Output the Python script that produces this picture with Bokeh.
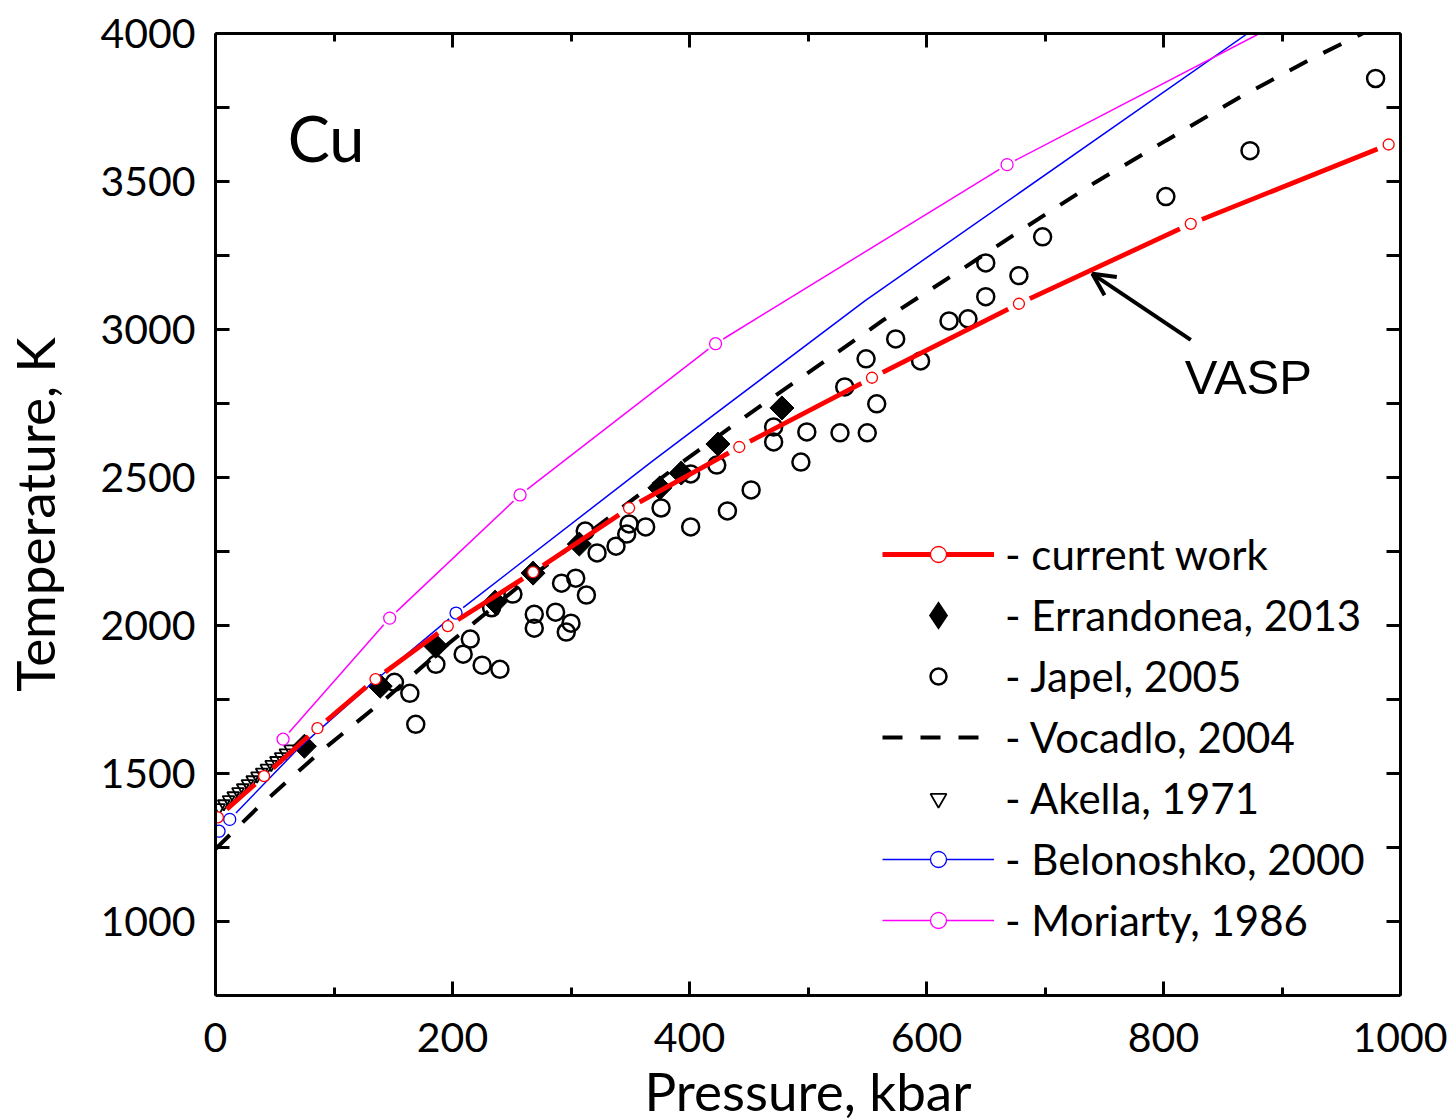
import math
from bokeh.plotting import figure
from bokeh.models import (Range1d, FixedTicker, LinearAxis, Legend, LegendItem,
                          Arrow, OpenHead, Label, CustomJSTickFormatter)
from bokeh.embed import file_html
from bokeh.resources import INLINE

# ---------------- data ----------------
# current work (VASP) - red line with markers
cw_p = [2, 41, 86, 135, 196, 268, 349, 442, 554, 678, 823, 990]
cw_t = [1352, 1491, 1653, 1819, 1998, 2180, 2397, 2603, 2837, 3087, 3357, 3625]

# Errandonea, 2013 - filled diamonds
er_p = [75, 139, 186, 236, 268, 307, 375, 393, 424, 478]
er_t = [1592, 1795, 1930, 2079, 2177, 2275, 2465, 2515, 2613, 2735]

# Japel, 2005 - open circles
ja_p = [151, 164, 169, 186, 209, 215, 225, 240, 233, 251, 269, 269, 287, 300, 296,
        292, 304, 313, 312, 322, 338, 347, 349, 363, 376, 401, 401, 423, 432, 452,
        471, 471, 494, 499, 527, 550, 558, 531, 549, 574, 595, 619, 635, 650, 650,
        678, 698, 802, 873, 979]
ja_t = [1808, 1771, 1666, 1869, 1903, 1954, 1866, 1852, 2060, 2106, 2038, 1991, 2045, 2008, 1978,
        2143, 2160, 2103, 2319, 2245, 2268, 2309, 2343, 2333, 2397, 2333, 2512, 2542, 2387, 2458,
        2671, 2620, 2552, 2654, 2651, 2651, 2749, 2806, 2901, 2968, 2894, 3029, 3036, 3111, 3225,
        3182, 3313, 3449, 3604, 3848]

# Vocadlo, 2004 - dashed line
vo_p = [0, 36, 89, 144, 197, 254, 336, 393, 449, 506, 564, 624, 683, 742, 802, 864, 925, 968]
vo_t = [1245, 1386, 1575, 1754, 1940, 2126, 2377, 2549, 2711, 2870, 3033, 3188, 3344, 3496,
        3638, 3784, 3915, 4000]

# Akella, 1971 - open down triangles
ak_p = [3, 7, 11, 15, 19, 23, 27, 31, 35, 39, 43, 47, 51, 55, 59, 63]
ak_t = [1385, 1398, 1412, 1425, 1439, 1452, 1466, 1479, 1492, 1505, 1518, 1531, 1544,
        1557, 1570, 1583]

# Belonoshko, 2000 - blue line (markers where flag = 1)
be_p = [3, 12, 70, 135, 203, 369, 548, 871]
be_t = [1305, 1345, 1585, 1815, 2042, 2556, 3097, 4000]
be_m = [1, 1, 0, 0, 1, 0, 0, 0]

# Moriarty, 1986 - magenta line (markers where flag = 1)
mo_p = [57, 147, 257, 422, 668, 881]
mo_t = [1616, 2025, 2441, 2952, 3557, 4000]
mo_m = [1, 1, 1, 1, 1, 0]

x_major = [0, 200, 400, 600, 800, 1000]
x_minor = [100, 300, 500, 700, 900]
y_major = [1000, 1500, 2000, 2500, 3000, 3500, 4000]
y_minor = [1250, 1750, 2250, 2750, 3250, 3750]

x_title = "Pressure, kbar"
y_title = "Temperature, K"
legend_labels = ["- current work", "- Errandonea, 2013", "- Japel, 2005", "- Vocadlo, 2004",
                 "- Akella, 1971", "- Belonoshko, 2000", "- Moriarty, 1986"]

# annotation anchors (data units)
cu_pos = (61, 3650)
vasp_pos = (818, 2840)
arrow_tail = (823, 2965)
arrow_tip = (740, 3188)

# ---------------- figure ----------------
FW, FH = 1185, 962
X0, X1, Y0, Y1 = 0, 1000, 750, 4000
KX = FW / (X1 - X0)
KY = FH / (Y1 - Y0)

FONT = "Lato"

p = figure(frame_width=FW, frame_height=FH, x_range=Range1d(X0, X1), y_range=Range1d(Y0, Y1),
           output_backend="svg", toolbar_location=None,
           min_border_left=213, min_border_top=33, min_border_right=47, min_border_bottom=118)
p.grid.visible = False
p.outline_line_color = None
p.background_fill_color = "white"


def gapped(P, T, flags, r):
    xs, ys = [], []
    cx, cy = [], []

    def flush():
        nonlocal cx, cy
        if len(cx) >= 2:
            xs.append(cx)
            ys.append(cy)
        cx, cy = [], []

    for i in range(len(P) - 1):
        x0, y0, x1, y1 = P[i], T[i], P[i + 1], T[i + 1]
        L = math.hypot((x1 - x0) * KX, (y1 - y0) * KY)
        t0 = r / L if flags[i] else 0.0
        t1 = r / L if flags[i + 1] else 0.0
        if t0 + t1 >= 1:
            flush()
            continue
        ax, ay = x0 + (x1 - x0) * t0, y0 + (y1 - y0) * t0
        bx, by = x1 - (x1 - x0) * t1, y1 - (y1 - y0) * t1
        if not cx:
            cx, cy = [ax], [ay]
        cx.append(bx)
        cy.append(by)
        if flags[i + 1]:
            flush()
    flush()
    return xs, ys


def sub(vals, flags):
    return [v for v, f in zip(vals, flags) if f]


# Japel circles
r_ja = p.scatter(ja_p, ja_t, marker="circle", size=17, fill_color=None,
                 line_color="black", line_width=2.5)
# Errandonea: a diamond glyph (used for the legend) hidden under rotated squares
r_er_leg = p.scatter(er_p, er_t, marker="diamond", size=10, fill_color="black",
                     line_color="black", line_width=7, line_join="miter")
r_er = p.scatter(er_p, er_t, marker="square", angle=math.pi / 4, size=17,
                 fill_color="black", line_color="black", line_width=1)
# Akella triangles
r_ak = p.scatter(ak_p, ak_t, marker="inverted_triangle", size=12, fill_color=None,
                 line_color="black", line_width=1.8)
# Vocadlo dashed
r_vo = p.line(vo_p, vo_t, line_color="black", line_width=4, line_dash="20 18")

# Belonoshko
bxs, bys = gapped(be_p, be_t, be_m, 9)
r_be_l = p.multi_line(bxs, bys, line_color="#0000FF", line_width=1.5)
r_be_m = p.scatter(sub(be_p, be_m), sub(be_t, be_m), marker="circle", size=12,
                   fill_color="white", line_color="#0000FF", line_width=1.3)

# Moriarty
mxs, mys = gapped(mo_p, mo_t, mo_m, 9)
r_mo_l = p.multi_line(mxs, mys, line_color="#FF00FF", line_width=1.5)
r_mo_m = p.scatter(sub(mo_p, mo_m), sub(mo_t, mo_m), marker="circle", size=12,
                   fill_color="white", line_color="#FF00FF", line_width=1.3)

# current work
cw_flags = [1] * len(cw_p)
cxs, cys = gapped(cw_p, cw_t, cw_flags, 12)
r_cw_l = p.multi_line(cxs, cys, line_color="#FF0000", line_width=4.8, line_cap="butt")
r_cw_m = p.scatter(cw_p, cw_t, marker="circle", size=11, fill_color="white",
                   line_color="#FF0000", line_width=1.3)

# ---------------- axes ----------------
def style_axis(ax, minor_len, labels=True):
    ax.axis_line_width = 3
    ax.axis_line_color = "black"
    ax.major_tick_in = 14
    ax.major_tick_out = 0
    ax.minor_tick_in = minor_len
    ax.minor_tick_out = 0
    ax.major_tick_line_width = 3
    ax.minor_tick_line_width = 3
    ax.major_tick_line_color = "black"
    ax.minor_tick_line_color = "black"
    ax.major_label_text_font = FONT
    ax.major_label_text_font_size = "41px"
    ax.major_label_text_color = "black"
    ax.axis_label_text_font = FONT
    ax.axis_label_text_font_size = "53px"
    ax.axis_label_text_font_style = "normal"
    ax.axis_label_text_color = "black"
    if not labels:
        ax.formatter = CustomJSTickFormatter(code="return ''")
        ax.major_label_standoff = 0


xa = p.xaxis[0]
xa.ticker = FixedTicker(ticks=x_major, minor_ticks=x_minor)
style_axis(xa, 8)
xa.axis_label = x_title
xa.major_label_standoff = 27
xa.axis_label_standoff = 4

ya = p.yaxis[0]
ya.ticker = FixedTicker(ticks=y_major, minor_ticks=y_minor)
style_axis(ya, 14)
ya.axis_label = y_title
ya.major_label_standoff = 20
ya.axis_label_standoff = 31

xa2 = LinearAxis(ticker=FixedTicker(ticks=x_major, minor_ticks=x_minor))
style_axis(xa2, 8, labels=False)
p.add_layout(xa2, "above")
ya2 = LinearAxis(ticker=FixedTicker(ticks=y_major, minor_ticks=y_minor))
style_axis(ya2, 14, labels=False)
p.add_layout(ya2, "right")

# ---------------- annotations ----------------
p.add_layout(Label(x=cu_pos[0], y=cu_pos[1], text="Cu", text_font=FONT,
                   text_font_size="63px", text_color="black", text_baseline="alphabetic"))
p.add_layout(Label(x=vasp_pos[0], y=vasp_pos[1], text="VASP", text_font="Liberation Sans",
                   text_font_size="49px", text_color="black", text_baseline="alphabetic"))
p.add_layout(Arrow(end=OpenHead(size=22, line_width=4, line_color="black"),
                   x_start=arrow_tail[0], y_start=arrow_tail[1],
                   x_end=arrow_tip[0], y_end=arrow_tip[1],
                   line_width=4, line_color="black"))

# ---------------- legend ----------------
items = [
    LegendItem(label=legend_labels[0], renderers=[r_cw_l, r_cw_m]),
    LegendItem(label=legend_labels[1], renderers=[r_er_leg]),
    LegendItem(label=legend_labels[2], renderers=[r_ja]),
    LegendItem(label=legend_labels[3], renderers=[r_vo]),
    LegendItem(label=legend_labels[4], renderers=[r_ak]),
    LegendItem(label=legend_labels[5], renderers=[r_be_l, r_be_m]),
    LegendItem(label=legend_labels[6], renderers=[r_mo_l, r_mo_m]),
]
legend = Legend(items=items, location=(667, 50), margin=0, padding=0, spacing=11,
                glyph_width=112, glyph_height=40, label_height=40, label_standoff=11,
                label_text_font=FONT, label_text_font_size="42px", label_text_color="black",
                background_fill_alpha=0, border_line_alpha=0)
p.add_layout(legend, "center")

open("out.html", "w").write(file_html(p, INLINE))
